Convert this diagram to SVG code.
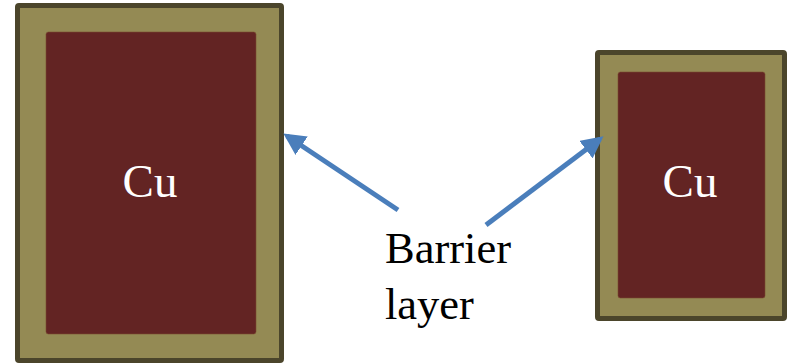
<svg xmlns="http://www.w3.org/2000/svg" width="787" height="364" viewBox="0 0 787 364">
  <defs>
    <style>
      .barrier { fill: #948a54; stroke: #4b452b; stroke-width: 5; }
      .core { fill: #632423; stroke: #7a4a30; stroke-width: 0.6; }
      .cu { font-family: "Liberation Serif", "Times New Roman", serif; font-size: 47px; fill: #ffffff; text-anchor: middle; }
      .label { font-family: "Liberation Serif", "Times New Roman", serif; font-size: 44.5px; fill: #000000; }
      .arrow { stroke: #4a7ebb; stroke-width: 5; fill: none; marker-end: url(#head); }
    </style>
    <marker id="head" viewBox="0 0 10 10" refX="8" refY="5" markerWidth="4.4" markerHeight="4.4" orient="auto" markerUnits="strokeWidth">
      <path d="M0,0 L10,5 L0,10 z" fill="#4a7ebb"/>
    </marker>
  </defs>

  <!-- large copper line with its barrier liner -->
  <g id="line-left">
    <rect class="barrier" x="17.5" y="5.5" width="264" height="355" rx="1.5"/>
    <rect class="core" x="46" y="32" width="210" height="302" rx="2.5"/>
    <text class="cu" x="150" y="197">Cu</text>
  </g>

  <!-- small copper line with its barrier liner -->
  <g id="line-right">
    <rect class="barrier" x="597.5" y="52.5" width="187" height="266" rx="1.5"/>
    <rect class="core" x="618" y="72" width="147" height="226" rx="2.5"/>
    <text class="cu" x="690" y="197">Cu</text>
  </g>

  <!-- callout label -->
  <g id="label">
    <text class="label" x="385" y="263">Barrier</text>
    <text class="label" x="385" y="319">layer</text>
  </g>

  <!-- pointers from label to each liner -->
  <g id="connectors">
    <line class="arrow" x1="398" y1="210" x2="287" y2="136"/>
    <line class="arrow" x1="486" y1="225" x2="600" y2="139"/>
  </g>
</svg>
